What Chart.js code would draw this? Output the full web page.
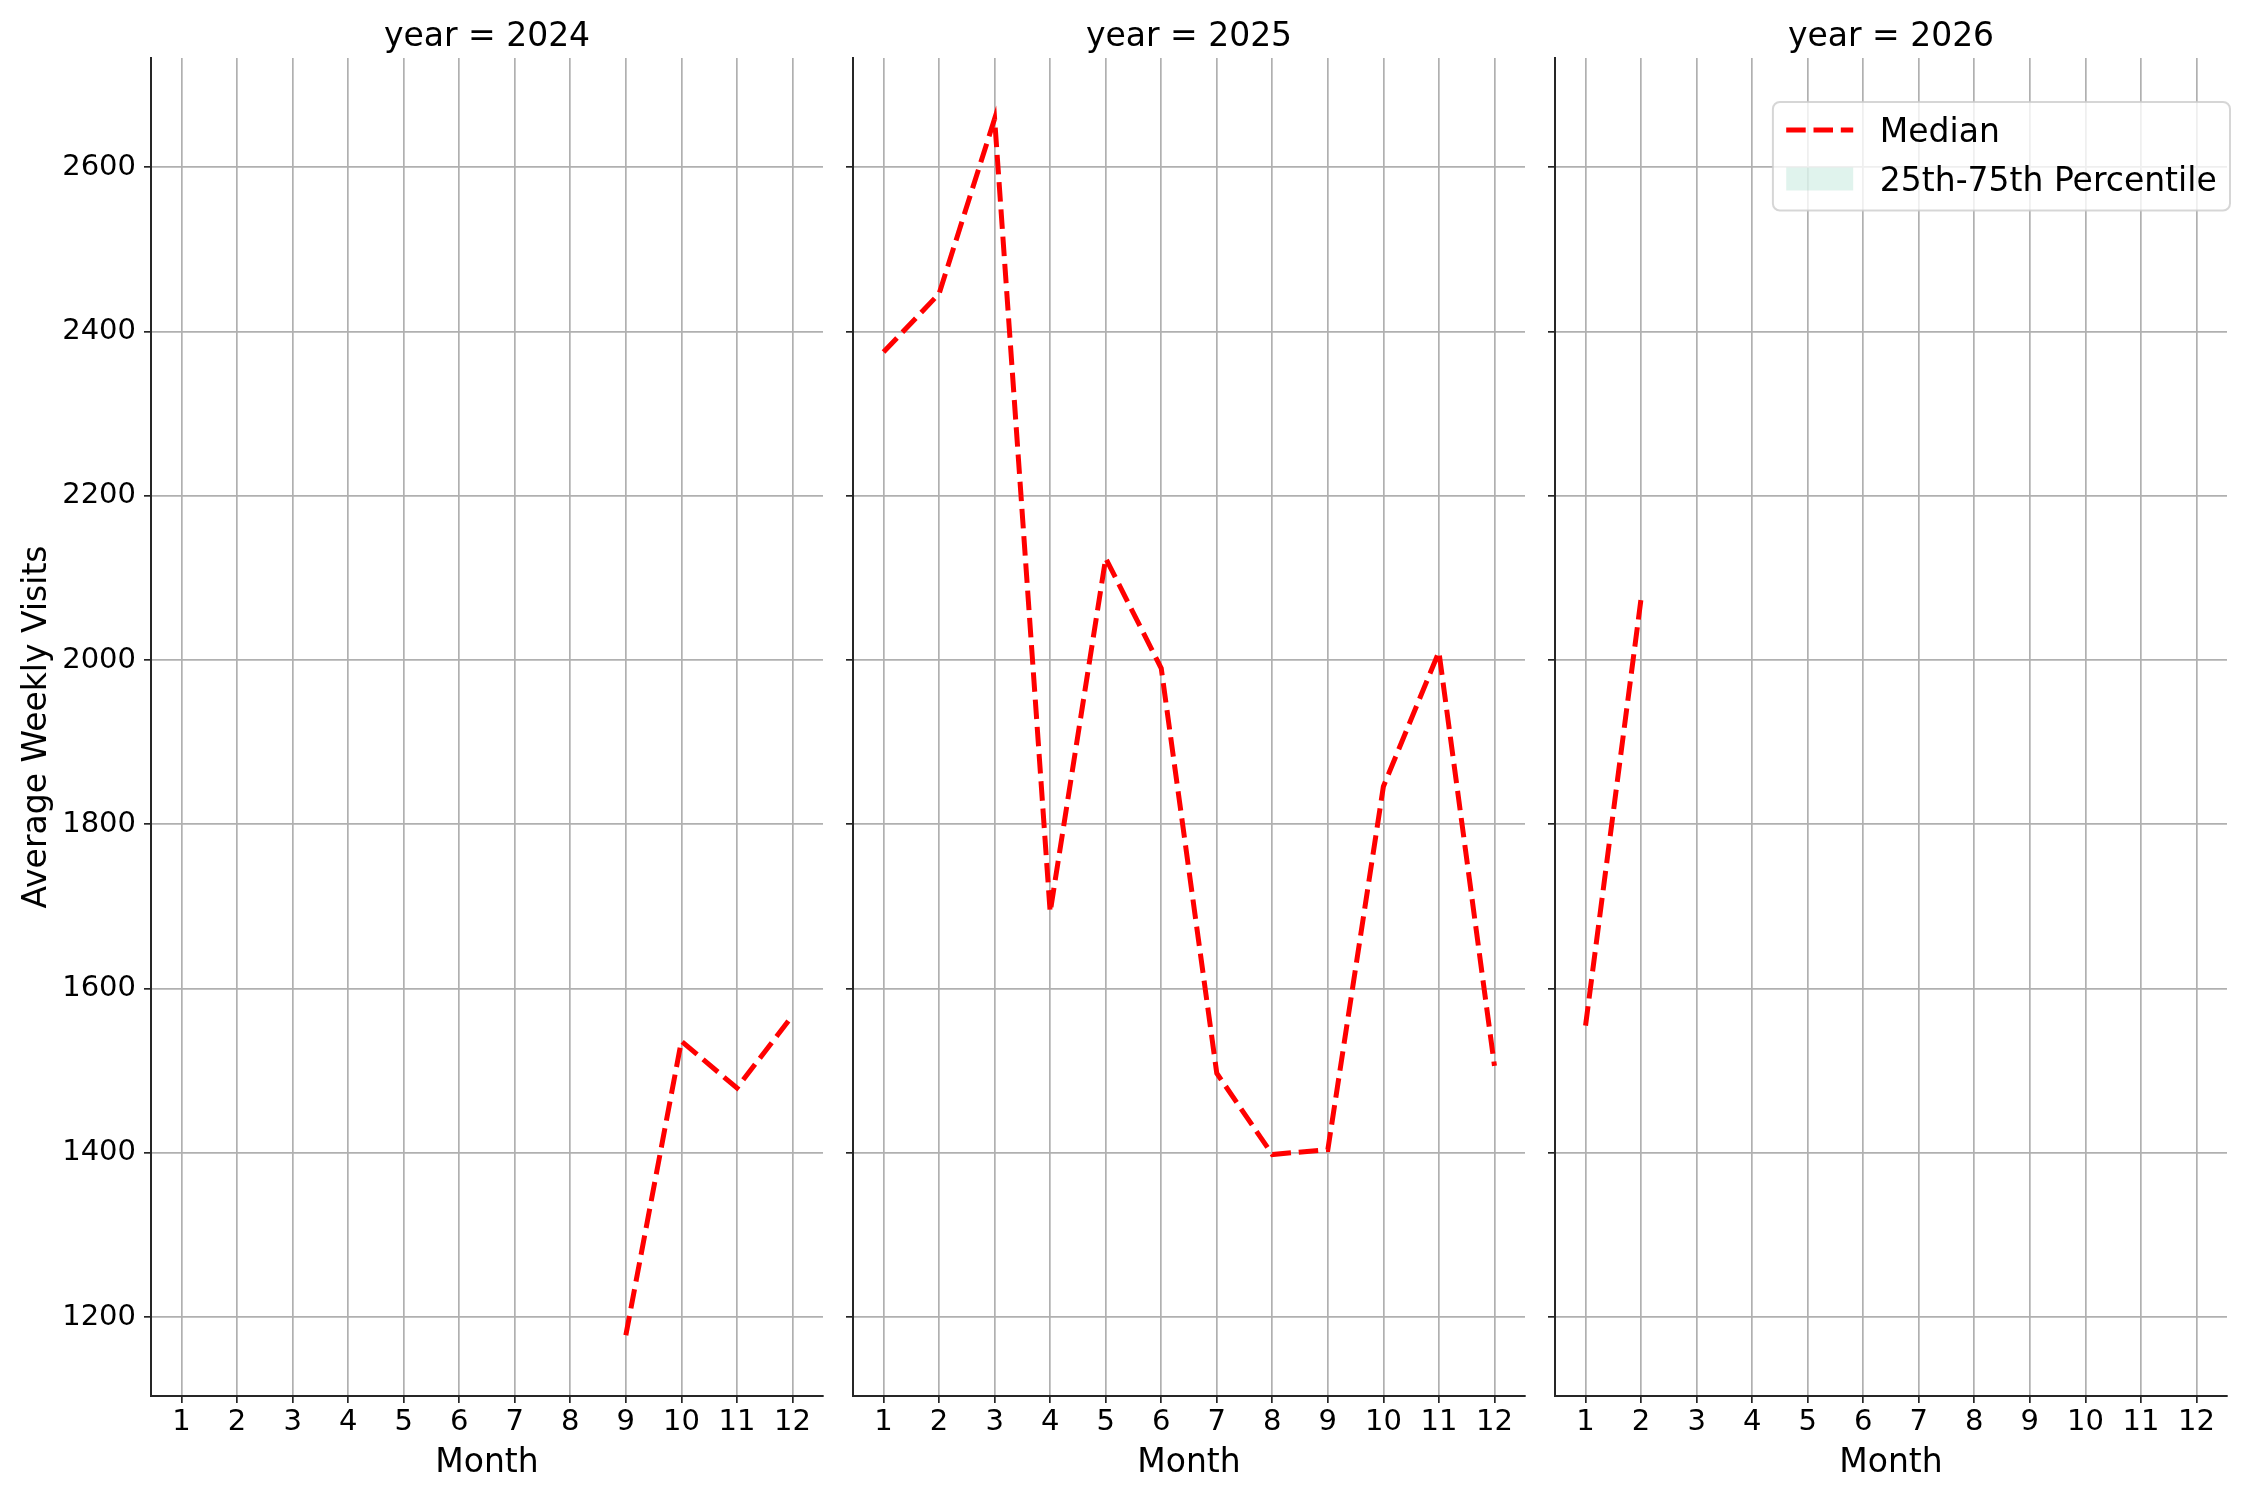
<!DOCTYPE html>
<html>
<head>
<meta charset="utf-8">
<script src="https://cdn.jsdelivr.net/npm/chart.js@4.4.1/dist/chart.umd.min.js"></script>
<style>
  html, body { margin: 0; padding: 0; background: #fff; }
  #wrap { position: relative; width: 2250px; height: 1500px; overflow: hidden; }
  #wrap canvas { position: absolute; left: 0; top: 0; }
</style>
</head>
<body>
<div id="wrap">
  <canvas id="c2024" width="2250" height="1500"></canvas>
  <canvas id="c2025" width="2250" height="1500"></canvas>
  <canvas id="c2026" width="2250" height="1500"></canvas>
</div>
<script>
// data (null = no data for that month)
var months = [1, 2, 3, 4, 5, 6, 7, 8, 9, 10, 11, 12];
var median2024 = [null, null, null, null, null, null, null, null, 1178, 1536, 1479, 1567];
var median2025 = [2375, 2446, 2659, 1693, 2124, 1990, 1497, 1398, 1404, 1846, 2010, 1506];
var median2026 = [1555, 2075, null, null, null, null, null, null, null, null, null, null];
var yTicks = [1200, 1400, 1600, 1800, 2000, 2200, 2400, 2600];
var seriesNames = ['Median', '25th-75th Percentile'];

Chart.defaults.font.family = "'DejaVu Sans', sans-serif";
Chart.defaults.color = '#000';

// legend drawn inside the plot, upper right, matplotlib style
var legendBox = {
  id: 'legendBox',
  afterDraw: function(chart) {
    var ctx = chart.ctx;
    var ca = chart.chartArea;
    var fs = 33;
    var pad = 13.3, handleLen = 67, textPad = 26.6;
    ctx.save();
    ctx.font = fs + "px 'DejaVu Sans'";
    var textW = 0;
    chart.data.datasets.forEach(function(ds) {
      textW = Math.max(textW, ctx.measureText(ds.label).width);
    });
    var right = ca.right + 3;
    var top = ca.top + 44;
    var w = pad + handleLen + textPad + textW + pad;
    var h = 108.5;
    var left = right - w;

    ctx.beginPath();
    ctx.roundRect(left, top, w, h, 7);
    ctx.fillStyle = 'rgba(255,255,255,0.8)';
    ctx.fill();
    ctx.lineWidth = 2;
    ctx.strokeStyle = 'rgba(204,204,204,0.8)';
    ctx.stroke();

    var rows = [top + 28, top + 77];
    chart.data.datasets.forEach(function(ds, i) {
      var cy = rows[i];
      var hx = left + pad;
      if (i === 0) {
        ctx.beginPath();
        ctx.setLineDash(ds.borderDash);
        ctx.lineWidth = ds.borderWidth;
        ctx.strokeStyle = ds.borderColor;
        ctx.moveTo(hx, cy);
        ctx.lineTo(hx + handleLen, cy);
        ctx.stroke();
        ctx.setLineDash([]);
      } else {
        ctx.fillStyle = ds.backgroundColor;
        ctx.fillRect(hx, cy - 11.5, handleLen, 23);
      }
      ctx.fillStyle = '#000';
      ctx.textAlign = 'left';
      ctx.textBaseline = 'middle';
      ctx.fillText(ds.label, hx + handleLen + textPad, cy + 3);
    });
    ctx.restore();
  }
};

function makePanel(id, year, values, panelLeft, first, withLegend) {
  var pts = [];
  for (var i = 0; i < months.length; i++) {
    if (values[i] !== null) pts.push({x: months[i], y: values[i]});
  }
  var yWidth = first ? 151 : 10;
  var ctx = document.getElementById(id).getContext('2d');
  return new Chart(ctx, {
    type: 'line',
    data: {
      datasets: [{
        label: seriesNames[0],
        data: pts,
        borderColor: '#ff0000',
        borderWidth: 5,
        borderDash: [19.5, 7.8],
        pointRadius: 0,
        tension: 0,
        fill: false
      }, {
        label: seriesNames[1],
        data: [],
        backgroundColor: 'rgba(102,194,165,0.2)',
        borderWidth: 0,
        pointRadius: 0
      }]
    },
    options: {
      responsive: false,
      animation: false,
      devicePixelRatio: 1,
      layout: {
        padding: { left: panelLeft - yWidth, right: 2250 - (panelLeft + 672), top: 0, bottom: 0 }
      },
      plugins: {
        legend: { display: false },
        tooltip: { enabled: false },
        title: {
          display: true,
          text: 'year = ' + year,
          fullSize: false,
          font: { size: 33, weight: 'normal' },
          color: '#000',
          padding: { top: 17.2, bottom: 1.2 }
        }
      },
      scales: {
        x: {
          type: 'linear',
          min: 0.45,
          max: 12.55,
          afterBuildTicks: function(scale) {
            scale.ticks = months.map(function(m) { return {value: m}; });
          },
          afterFit: function(scale) { scale.height = 104; },
          ticks: {
            autoSkip: false,
            maxRotation: 0,
            padding: 2,
            font: { size: 29 },
            color: '#000',
            callback: function(v) { return String(v); }
          },
          grid: {
            color: '#b0b0b0',
            lineWidth: 1.7,
            tickLength: 7,
            tickColor: '#262626',
            tickWidth: 1.7
          },
          border: { display: true, color: '#262626', width: 2 },
          title: {
            display: true,
            text: 'Month',
            font: { size: 33 },
            color: '#000',
            padding: { top: 0, bottom: 16.8 }
          }
        },
        y: {
          type: 'linear',
          min: 1104,
          max: 2733,
          afterBuildTicks: function(scale) {
            scale.ticks = yTicks.map(function(v) { return {value: v}; });
          },
          afterFit: function(scale) { scale.width = yWidth; },
          ticks: {
            display: first,
            padding: 8,
            font: { size: 29 },
            color: '#000',
            callback: function(v) { return String(v); }
          },
          grid: {
            color: '#b0b0b0',
            lineWidth: 1.7,
            tickLength: 7,
            tickColor: '#262626',
            tickWidth: 1.7
          },
          border: { display: true, color: '#262626', width: 2 },
          title: {
            display: first,
            text: 'Average Weekly Visits',
            font: { size: 33 },
            color: '#000',
            padding: { top: 17.5, bottom: 0 }
          }
        }
      }
    },
    plugins: withLegend ? [legendBox] : []
  });
}

makePanel('c2024', 2024, median2024, 151, true, false);
makePanel('c2025', 2025, median2025, 853, false, false);
makePanel('c2026', 2026, median2026, 1555, false, true);
</script>
</body>
</html>
